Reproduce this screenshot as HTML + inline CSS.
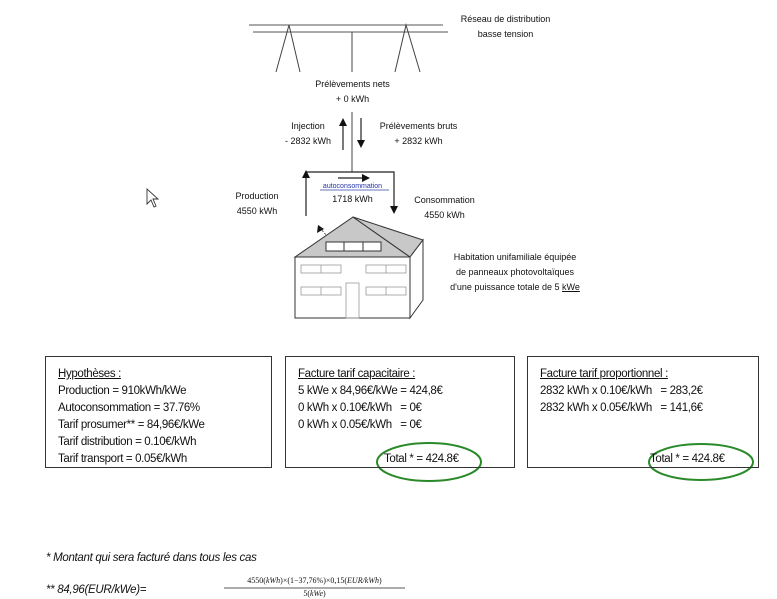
<!DOCTYPE html>
<html><head><meta charset="utf-8"><style>
body{margin:0;background:#fff;width:777px;height:597px;overflow:hidden;position:relative;font-family:"Liberation Sans",sans-serif;color:#111}
.t{position:absolute;font-size:9px;white-space:nowrap;text-align:center;line-height:15px}
.box{position:absolute;border:1.3px solid #333;top:356px;height:112px;box-sizing:border-box;padding:9px 0 0 12px;font-size:11.5px;letter-spacing:-0.35px;line-height:17px;white-space:nowrap}
.box u{text-decoration:underline}
</style></head><body>
<svg width="777" height="597" style="position:absolute;left:0;top:0">
<g stroke="#777" stroke-width="1.3" fill="none">
<line x1="249" y1="25" x2="443" y2="25"/><line x1="253" y1="32" x2="448" y2="32"/>
</g>
<g stroke="#444" stroke-width="1" fill="none">
<polyline points="276,72 289,25 300,72"/><line x1="352" y1="32" x2="352" y2="72"/><polyline points="395,72 406,25 420,72"/>
<line x1="352" y1="112" x2="352" y2="172"/>
<polyline points="306,216 306,172 394,172 394,208" stroke="#222" stroke-width="1.2"/>
<line x1="343" y1="150" x2="343" y2="124" stroke="#222" stroke-width="1.2"/>
<line x1="361" y1="118" x2="361" y2="142" stroke="#222" stroke-width="1.2"/>
<line x1="338" y1="178" x2="364" y2="178" stroke="#222" stroke-width="1.2"/>
</g>
<g fill="#111">
<polygon points="343,118 339,126 347,126"/><polygon points="361,148 357,140 365,140"/>
<polygon points="370,178 362,174 362,182"/><polygon points="306,170 302,178 310,178"/>
<polygon points="394,214 390,206 398,206"/><polygon points="318,225 317,233 324,229"/>
</g>
<line x1="335" y1="245" x2="320" y2="228" stroke="#333" stroke-width="0.8" stroke-dasharray="2,1.5"/>
<line x1="320" y1="190" x2="389" y2="190" stroke="#3344aa" stroke-width="0.8"/>
<g stroke="#333" stroke-width="1">
<polygon points="295,257 353,217 410,257" fill="#c8c8c8"/>
<polygon points="353,217 423,240 410,257" fill="#c8c8c8"/>
<polygon points="410,257 423,240 423,300 410,318" fill="#fff"/>
<rect x="295" y="257" width="115" height="61" fill="#fff"/>
<rect x="326" y="242" width="55" height="9" fill="#fff"/>
<line x1="344" y1="242" x2="344" y2="251"/><line x1="363" y1="242" x2="363" y2="251"/>
</g>
<g stroke="#999" stroke-width="0.8" fill="none">
<rect x="301" y="265" width="40" height="8"/><line x1="321" y1="265" x2="321" y2="273"/>
<rect x="366" y="265" width="40" height="8"/><line x1="386" y1="265" x2="386" y2="273"/>
<rect x="301" y="287" width="40" height="8"/><line x1="321" y1="287" x2="321" y2="295"/>
<rect x="366" y="287" width="40" height="8"/><line x1="386" y1="287" x2="386" y2="295"/>
<rect x="346" y="283" width="13" height="35"/>
</g>
<path d="M147,189 L147,204 L151,200 L154,207 L156,206 L153,199 L158,199 Z" fill="#fff" stroke="#333" stroke-width="0.9"/>
<ellipse cx="429" cy="462" rx="52" ry="19" fill="none" stroke="#2a8a2a" stroke-width="2"/>
<ellipse cx="701" cy="462" rx="52" ry="18" fill="none" stroke="#2a8a2a" stroke-width="2"/>
<line x1="224" y1="588" x2="405" y2="588" stroke="#222" stroke-width="0.8"/>
</svg>
<div class="t" style="left:448px;top:12px;width:115px">Réseau de distribution<br>basse tension</div>
<div class="t" style="left:295px;top:77px;width:115px">Prélèvements nets<br>+ 0 kWh</div>
<div class="t" style="left:278px;top:119px;width:60px">Injection<br>- 2832 kWh</div>
<div class="t" style="left:366px;top:119px;width:105px">Prélèvements bruts<br>+ 2832 kWh</div>
<div class="t" style="left:222px;top:189px;width:70px;line-height:15px">Production<br>4550 kWh</div>
<div class="t" style="left:315px;top:182px;width:75px;font-size:7px;line-height:10px;color:#2233aa">autoconsommation</div>
<div class="t" style="left:315px;top:192px;width:75px">1718 kWh</div>
<div class="t" style="left:402px;top:193px;width:85px">Consommation<br>4550 kWh</div>
<div class="t" style="left:445px;top:250px;width:140px">Habitation unifamiliale équipée<br>de panneaux photovoltaïques<br>d'une puissance totale de 5 <u>kWe</u></div>
<div class="box" style="left:45px;width:227px"><u>Hypothèses :</u><br>Production = 910kWh/kWe<br>Autoconsommation = 37.76%<br>Tarif prosumer** = 84,96€/kWe<br>Tarif distribution = 0.10€/kWh<br>Tarif transport = 0.05€/kWh</div>
<div class="box" style="left:285px;width:230px"><u>Facture tarif capacitaire :</u><br>5 kWe x 84,96€/kWe = 424,8€<br>0 kWh x 0.10€/kWh &nbsp; = 0€<br>0 kWh x 0.05€/kWh &nbsp; = 0€<br><br><span style="position:absolute;left:98px;top:94px">Total * = 424.8€</span></div>
<div class="box" style="left:527px;width:232px"><u>Facture tarif proportionnel :</u><br>2832 kWh x 0.10€/kWh &nbsp; = 283,2€<br>2832 kWh x 0.05€/kWh &nbsp; = 141,6€<br><span style="position:absolute;left:122px;top:94px">Total * = 424.8€</span></div>
<div class="t" style="left:46px;top:551px;font-size:11.5px;letter-spacing:-0.3px;font-style:italic;text-align:left">* Montant qui sera facturé dans tous les cas</div>
<div class="t" style="left:46px;top:583px;font-size:11.5px;letter-spacing:-0.3px;font-style:italic;text-align:left">** 84,96(EUR/kWe)=</div>
<div class="t" style="left:222px;top:575px;width:185px;font-size:8px;line-height:12px;font-family:'Liberation Serif',serif">4550(<i>kWh</i>)×(1−37,76%)×0,15(<i>EUR/kWh</i>)</div>
<div class="t" style="left:222px;top:589px;width:185px;font-size:8px;line-height:10px;font-family:'Liberation Serif',serif">5(<i>kWe</i>)</div>
</body></html>
